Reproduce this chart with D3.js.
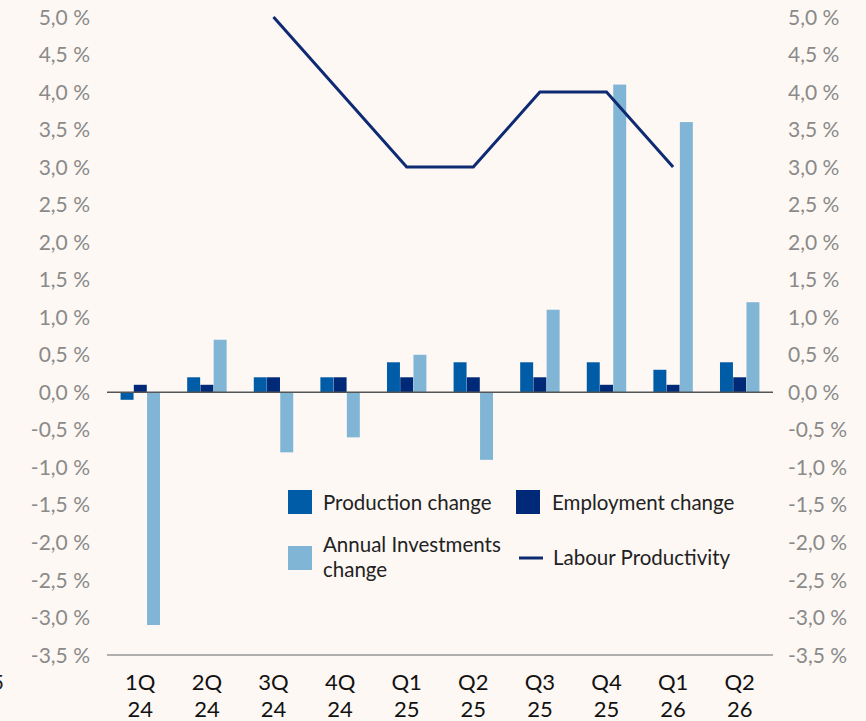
<!DOCTYPE html>
<html><head><meta charset="utf-8">
<script src="https://cdn.jsdelivr.net/npm/d3@7"></script>
<style>
html,body{margin:0;padding:0;background:#fdf8f4;}
svg{display:block;font-family:Lato,"Open Sans",sans-serif;}
</style></head><body>
<svg id="c" width="866" height="721"></svg>
<script>
const categories = [["1Q","24"],["2Q","24"],["3Q","24"],["4Q","24"],["Q1","25"],["Q2","25"],["Q3","25"],["Q4","25"],["Q1","26"],["Q2","26"]];
const production = [-0.1,0.2,0.2,0.2,0.4,0.4,0.4,0.4,0.3,0.4];
const employment = [0.1,0.1,0.2,0.2,0.2,0.2,0.2,0.1,0.1,0.2];
const investments = [-3.1,0.7,-0.8,-0.6,0.5,-0.9,1.1,4.1,3.6,1.2];
const productivity = [null,null,5.0,4.0,3.0,3.0,4.0,4.0,3.0,null];
const yTicks = [5.0,4.5,4.0,3.5,3.0,2.5,2.0,1.5,1.0,0.5,0.0,-0.5,-1.0,-1.5,-2.0,-2.5,-3.0,-3.5];
const seriesNames = ["Production change","Employment change","Annual Investments change","Labour Productivity"];
const colors = ["#005ca6","#002a78","#80b5d5","#0d2a73"];

const svg = d3.select("#c");
const L = 107, R = 773, T = 17, B = 655;
const keys = categories.map(c => c.join(" "));
const x0 = d3.scaleBand().domain(keys).range([L,R]).paddingInner(0.4).paddingOuter(0.2);
const x1 = d3.scaleBand().domain([0,1,2]).range([0,x0.bandwidth()]).padding(0.02);
const y = d3.scaleLinear().domain([-3.5,5.0]).range([B,T]);
const fmt = v => d3.format(".1f")(v).replace(".",",").replace("−","-") + " %";

// axis labels (left and right)
const gl = svg.append("g").attr("fill","#8a8a8a").attr("font-size",21);
yTicks.forEach(t=>{
  gl.append("text").attr("x",90).attr("y",y(t)).attr("dy","0.36em").attr("text-anchor","end").text(fmt(t));
  gl.append("text").attr("x",788).attr("y",y(t)).attr("dy","0.36em").attr("text-anchor","start").text(fmt(t));
});
// stray clipped label at left edge
svg.append("text").attr("x",4).attr("y",690).attr("text-anchor","end").attr("fill","#222").attr("font-size",21).text("5");

// bars
const data = [production, employment, investments];
data.forEach((arr,si)=>{
  svg.append("g").selectAll("rect").data(arr).join("rect")
    .attr("x",(d,i)=>x0(keys[i]) + x1(si))
    .attr("width",x1.bandwidth())
    .attr("y",d=>y(Math.max(0,d)))
    .attr("height",d=>Math.abs(y(d)-y(0)))
    .attr("fill",colors[si]);
});

// axis lines
svg.append("line").attr("x1",L).attr("x2",R).attr("y1",y(0)).attr("y2",y(0)).attr("stroke","#555").attr("stroke-width",1.5);
svg.append("line").attr("x1",L).attr("x2",R).attr("y1",y(-3.5)).attr("y2",y(-3.5)).attr("stroke","#666").attr("stroke-width",1.2);

// line
const line = d3.line().defined(d=>d.v!==null).x(d=>x0(d.k)+x0.bandwidth()/2).y(d=>y(d.v));
svg.append("path").datum(productivity.map((v,i)=>({k:keys[i],v})))
  .attr("d",line).attr("fill","none").attr("stroke",colors[3]).attr("stroke-width",3);

// x labels
categories.forEach((c,i)=>{
  const cx = x0(keys[i])+x0.bandwidth()/2;
  const t = svg.append("text").attr("text-anchor","middle").attr("fill","#111").attr("font-size",22);
  t.append("tspan").attr("x",cx).attr("y",690).text(c[0]);
  t.append("tspan").attr("x",cx).attr("y",717).text(c[1]);
});

// legend
const lg = svg.append("g").attr("font-size",20.5).attr("fill","#222");
lg.append("rect").attr("x",288).attr("y",490).attr("width",24).attr("height",24).attr("fill",colors[0]);
lg.append("text").attr("x",323).attr("y",510).text(seriesNames[0]);
lg.append("rect").attr("x",516).attr("y",490).attr("width",24).attr("height",24).attr("fill",colors[1]);
lg.append("text").attr("x",552).attr("y",510).text(seriesNames[1]);
lg.append("rect").attr("x",288).attr("y",546).attr("width",24).attr("height",24).attr("fill",colors[2]);
const t3 = lg.append("text");
t3.append("tspan").attr("x",323).attr("y",552).text("Annual Investments");
t3.append("tspan").attr("x",323).attr("y",577).text("change");
lg.append("line").attr("x1",519).attr("x2",543).attr("y1",558).attr("y2",558).attr("stroke",colors[3]).attr("stroke-width",3);
lg.append("text").attr("x",553).attr("y",565).text(seriesNames[3]);
</script>
</body></html>
